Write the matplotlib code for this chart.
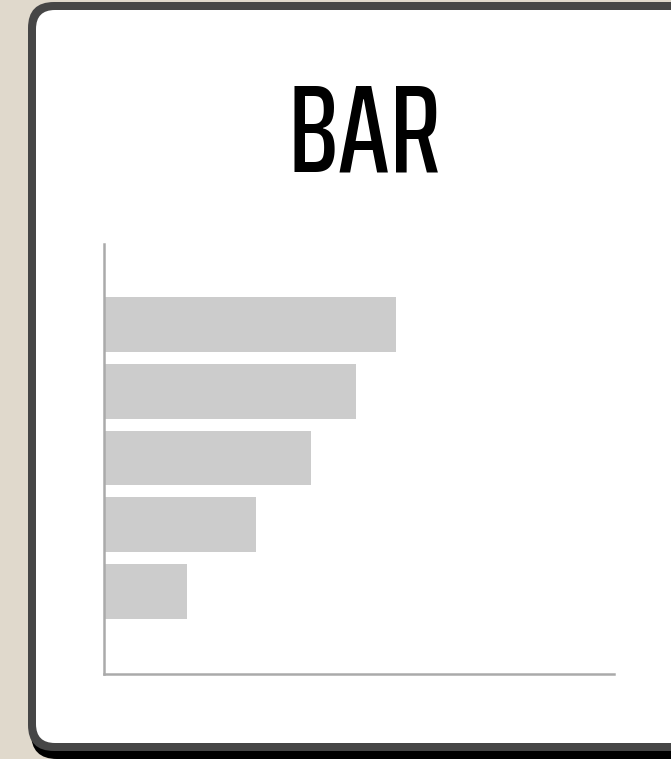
import matplotlib
matplotlib.use("Agg")
import matplotlib.pyplot as plt
from matplotlib.patches import FancyBboxPatch
from matplotlib import font_manager

categories = ["A", "B", "C", "D", "E"]
values = [57.2, 49.4, 40.6, 29.8, 16.2]
title = "BAR"

W, H = 671, 759
fig = plt.figure(figsize=(W / 100, H / 100), dpi=100)
fig.patch.set_facecolor("#e0d9cc")

deco = fig.add_axes([0, 0, 1, 1], zorder=0)
deco.set_xlim(0, W)
deco.set_ylim(H, 0)
deco.axis("off")

def rrect(x0, y0, x1, y1, r, color):
    p = FancyBboxPatch((x0 + r, y0 + r), (x1 - x0) - 2 * r, (y1 - y0) - 2 * r,
                       boxstyle=f"round,pad={r}", linewidth=0, facecolor=color,
                       mutation_aspect=1)
    deco.add_patch(p)

rrect(31, 10, 720, 759, 26, "#000000")
rrect(28, 2, 720, 751, 26, "#464646")
rrect(36, 10, 712, 743, 19, "#ffffff")

# look for a condensed face
cands = []
for f in font_manager.fontManager.ttflist:
    nm = (f.name + " " + f.fname).lower()
    st = str(f.stretch).lower()
    if "condensed" in nm or "narrow" in nm or "condensed" in st or st in ("semi-condensed",):
        if "italic" in f.fname.lower() or "oblique" in f.fname.lower() or f.style != "normal":
            continue
        score = 0
        w = f.weight if isinstance(f.weight, int) else 400
        score -= abs(w - 500) / 100
        if "extracondensed" in nm.replace(" ", "").replace("-", ""):
            score += 0.5
        cands.append((score, f.fname))
if cands:
    cands.sort(reverse=True)
    fp = font_manager.FontProperties(fname=cands[0][1], size=90)
else:
    fp = font_manager.FontProperties(family="DejaVu Sans", stretch="condensed", size=90)

fig.text(365 / W, 1 - 171.5 / H, title, ha="center", va="baseline",
         fontproperties=fp, color="#000000")

ax = fig.add_axes([104 / W, 1 - 674 / H, 510 / W, 430 / H], zorder=1)
ax.patch.set_alpha(0)
ypos = list(range(len(categories)))
ax.barh(ypos, values, height=0.82, color="#cccccc", linewidth=0)
ax.set_xlim(0, 100)
ax.set_ylim(5.236, -1.206)
for s in ["top", "right"]:
    ax.spines[s].set_visible(False)
for s in ["left", "bottom"]:
    ax.spines[s].set_color("#aaaaaa")
    ax.spines[s].set_linewidth(1.8)
ax.set_xticks([])
ax.set_yticks([])

fig.savefig("out.png", dpi=100, facecolor=fig.get_facecolor())
